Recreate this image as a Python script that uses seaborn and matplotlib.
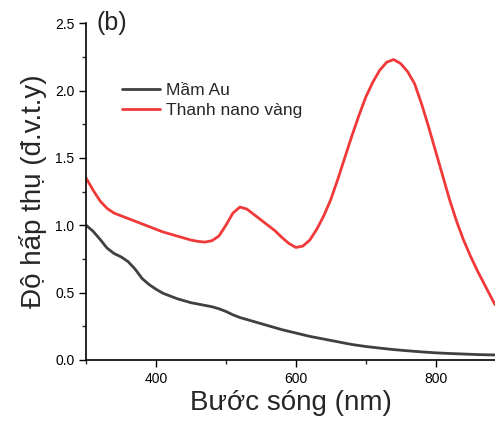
import numpy as np
import pandas as pd
import matplotlib
matplotlib.use("Agg")
import matplotlib.pyplot as plt
import seaborn as sns
from matplotlib.ticker import MultipleLocator

wl_red = [300,310,320,330,340,350,360,370,380,390,400,410,420,430,440,450,460,470,480,490,
          500,510,520,530,540,550,560,570,580,590,600,610,620,630,640,650,660,670,680,690,
          700,710,720,730,740,750,760,770,780,790,800,810,820,830,840,850,860,870,880,885]
abs_red = [1.35,1.26,1.18,1.125,1.09,1.07,1.05,1.03,1.01,0.99,0.97,0.95,0.935,0.92,0.905,0.89,0.88,0.875,0.885,0.92,
           1.00,1.09,1.135,1.12,1.08,1.04,1.00,0.96,0.91,0.865,0.835,0.845,0.89,0.97,1.07,1.19,1.34,1.50,1.66,1.81,
           1.95,2.06,2.15,2.21,2.23,2.20,2.14,2.05,1.90,1.73,1.55,1.37,1.19,1.03,0.89,0.77,0.66,0.56,0.46,0.41]

wl_gray = [300,310,320,330,340,350,360,370,380,390,400,410,420,430,440,450,460,470,480,490,
           500,510,520,540,560,580,600,620,640,660,680,700,720,740,760,780,800,820,840,860,885]
abs_gray = [1.00,0.955,0.895,0.83,0.79,0.765,0.73,0.675,0.605,0.56,0.525,0.495,0.475,0.455,0.44,0.425,0.415,0.405,0.395,0.38,
            0.36,0.335,0.315,0.285,0.255,0.225,0.20,0.175,0.155,0.135,0.115,0.10,0.088,0.077,0.068,0.06,0.053,0.048,0.044,0.04,0.037]

names = ["Mầm Au", "Thanh nano vàng"]

df = pd.concat([
    pd.DataFrame({"wl": wl_gray, "A": abs_gray, "s": names[0]}),
    pd.DataFrame({"wl": wl_red, "A": abs_red, "s": names[1]}),
])

sns.set_style("ticks")
plt.rcParams['font.family'] = ['Liberation Sans', 'DejaVu Sans']

fig = plt.figure(figsize=(4.95, 4.21), dpi=100)
ax = fig.add_axes([0.174, 0.145, 0.826, 0.800])
sns.lineplot(data=df, x="wl", y="A", hue="s", hue_order=names,
             palette={names[0]: "#404040", names[1]: "#f03a3a"},
             linewidth=2, ax=ax, sort=False)

ax.set_xlim(300, 885)
ax.set_ylim(0, 2.5)
ax.set_xticks([400, 600, 800])
ax.xaxis.set_minor_locator(MultipleLocator(100))
ax.yaxis.set_major_locator(MultipleLocator(0.5))
ax.yaxis.set_minor_locator(MultipleLocator(0.25))
ax.yaxis.set_major_formatter(matplotlib.ticker.FormatStrFormatter('%.1f'))
ax.tick_params(which='major', direction='out', length=5, width=1, labelsize=10, colors='black')
ax.tick_params(which='minor', direction='out', length=3, width=1)
for s in ['top', 'right']:
    ax.spines[s].set_visible(False)
for s in ['left', 'bottom']:
    ax.spines[s].set_linewidth(1.2)
    ax.spines[s].set_color('black')

ax.set_xlabel("Bước sóng (nm)", fontsize=20, labelpad=3)
ax.set_ylabel("Độ hấp thụ (đ.v.t.y)", fontsize=20, labelpad=6)
ax.text(0.025, 1.0, "(b)", transform=ax.transAxes, fontsize=18, va='center', ha='left')

leg = ax.legend(loc='upper left', bbox_to_anchor=(0.05, 0.87), frameon=False,
                fontsize=12.5, handlelength=2.2, handletextpad=0.35, labelspacing=0.3)

fig.savefig("out.png", dpi=100)
